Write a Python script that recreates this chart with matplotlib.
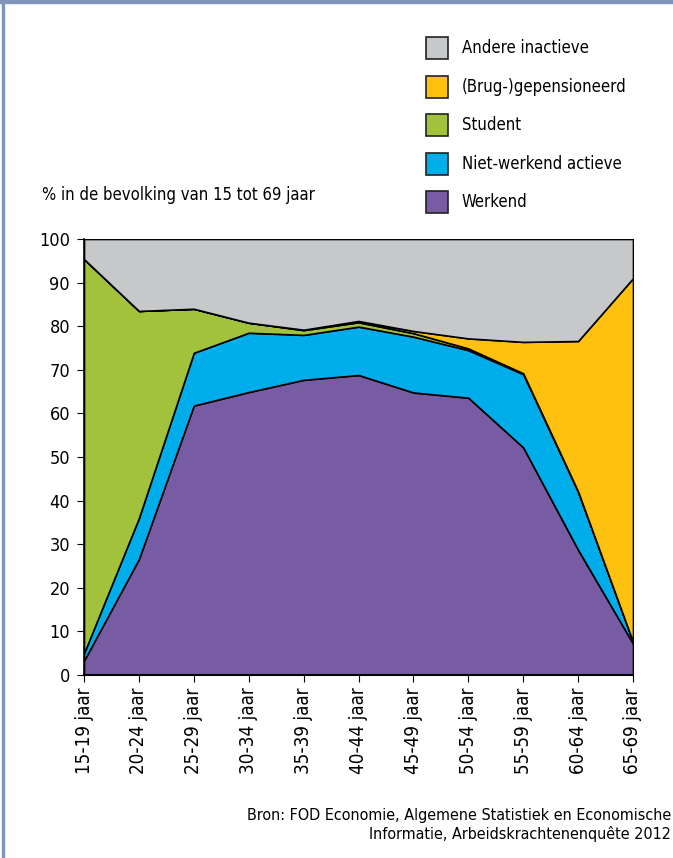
import matplotlib.pyplot as plt
from matplotlib.patches import Patch, Rectangle
from matplotlib import font_manager as fm
import numpy as np

# look for a narrow / condensed sans face, otherwise use a plain one
smal = None
for f in fm.fontManager.ttflist:
    n = f.fname.lower()
    if ('condensed' in n or 'narrow' in n) and 'bold' not in n and 'oblique' not in n and 'italic' not in n and 'mono' not in n and 'serif' not in n.replace('sans', ''):
        smal = f
        break
if smal is not None:
    fm.fontManager.addfont(smal.fname)
    plt.rcParams['font.family'] = [smal.name, 'DejaVu Sans']
    plt.rcParams['font.stretch'] = smal.stretch
    schaal = 1.0
else:
    plt.rcParams['font.family'] = ['Liberation Sans', 'DejaVu Sans']
    schaal = 0.85

# data (percent of population 15-69)
leeftijd = ['15-19 jaar', '20-24 jaar', '25-29 jaar', '30-34 jaar', '35-39 jaar',
            '40-44 jaar', '45-49 jaar', '50-54 jaar', '55-59 jaar', '60-64 jaar', '65-69 jaar']
werkend = [3.3, 26.6, 61.8, 64.9, 67.7, 68.8, 64.8, 63.6, 52.2, 28.7, 7.2]
niet_werkend = [1.7, 9.4, 12.1, 13.6, 10.3, 11.1, 12.8, 10.9, 16.8, 13.3, 0.4]
student = [90.4, 47.5, 10.1, 2.3, 1.1, 1.0, 0.8, 0.4, 0.2, 0.1, 0.0]
gepensioneerd = [0.0, 0.0, 0.0, 0.0, 0.1, 0.3, 0.5, 2.3, 7.2, 34.5, 83.4]
andere = [100 - sum(v) for v in zip(werkend, niet_werkend, student, gepensioneerd)]

namen = ['Werkend', 'Niet-werkend actieve', 'Student', '(Brug-)gepensioneerd', 'Andere inactieve']
kleuren = ['#775ca3', '#00adeb', '#a3c23c', '#fec110', '#c7c8ca']

fig = plt.figure(figsize=(6.73, 8.58), dpi=100)
ax = fig.add_axes([84/673, 1-675/858, (633-84)/673, (675-239)/858])

x = np.arange(len(leeftijd))
reeksen = [werkend, niet_werkend, student, gepensioneerd, andere]
onder = np.zeros(len(x))
for r, k in zip(reeksen, kleuren):
    boven = onder + np.array(r)
    ax.fill_between(x, onder, boven, facecolor=k, edgecolor='black', linewidth=1.2)
    onder = boven

ax.set_xlim(0, len(x)-1)
ax.set_ylim(0, 100)
ax.set_yticks(range(0, 101, 10))
ax.set_xticks(x)
ax.set_xticklabels(leeftijd, rotation=90, fontsize=13.5 * schaal)
ax.tick_params(axis='y', labelsize=13 * schaal, length=5, width=0.8, pad=5)
ax.tick_params(axis='x', length=5, width=0.8, pad=4)
for s in ['top', 'right']:
    ax.spines[s].set_visible(False)
ax.spines['left'].set_linewidth(1.2)
ax.spines['bottom'].set_linewidth(1.5)

fig.text(42/673, 1-195/858, '% in de bevolking van 15 tot 69 jaar', fontsize=12 * schaal, va='center', ha='left')

# legend: visible square ~22 px, rows ~38.5 px apart
lfs = 12 * schaal
px = lfs * 100 / 72
hh = (22 - 0.245 * px) / (0.65 * px)
handles = [Patch(facecolor=k, edgecolor='#222222', linewidth=1.2) for k in kleuren][::-1]
fig.legend(handles, namen[::-1], loc='upper left', bbox_to_anchor=(426/673, 1-37/858),
           frameon=False, fontsize=lfs, handlelength=22/px, handleheight=hh,
           labelspacing=16.5/px, handletextpad=14/px, borderpad=0, borderaxespad=0)

fig.text(671/673, 1-825/858, 'Bron: FOD Economie, Algemene Statistiek en Economische\nInformatie, Arbeidskrachtenenquête 2012',
         fontsize=11.5 * schaal, ha='right', va='center', multialignment='right', linespacing=1.3)

# frame
fig.patches.append(Rectangle((0, 1-3/858), 1, 3/858, transform=fig.transFigure, color='#8093b8'))
fig.patches.append(Rectangle((2/673, 0), 1.5/673, 1, transform=fig.transFigure, color='#8093b8'))

fig.savefig('out.png', dpi=100)
